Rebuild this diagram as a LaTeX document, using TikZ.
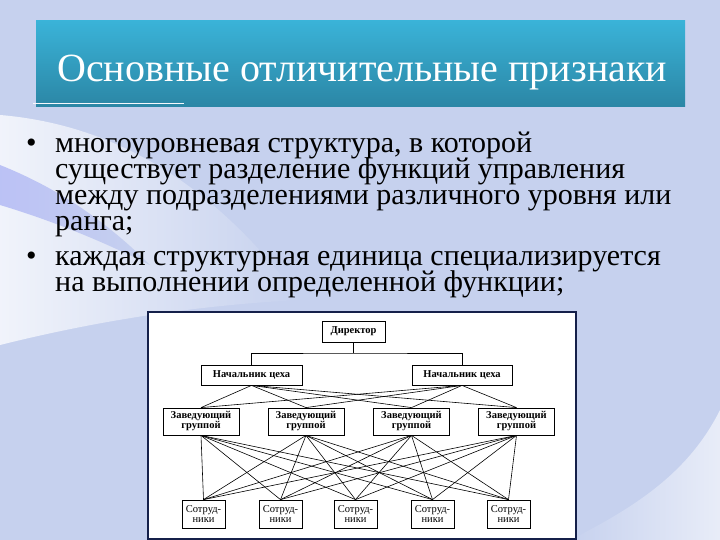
\documentclass[tikz,border=0pt]{standalone}
\usepackage{fontspec}
\setmainfont{Liberation Serif}
\usetikzlibrary{positioning}

\definecolor{bgblue}{HTML}{C6D1EE}
\definecolor{bannertop}{HTML}{3AB3D8}
\definecolor{bannerbot}{HTML}{2B86A5}
\definecolor{frameblue}{HTML}{15204A}

\tikzset{
    orgbox/.style={draw, line width=0.8pt, fill=white, inner sep=0pt, align=center,
        font=\fontsize{10.5}{10}\selectfont\bfseries},
    staffbox/.style={orgbox, font=\fontsize{10.5}{10}\selectfont},
    link/.style={line width=0.6pt},
    bodytext/.style={anchor=base west, inner sep=0pt, font=\fontsize{30}{26}\selectfont}
}

\begin{document}
\begin{tikzpicture}[x=1pt, y=-1pt]
    % Background
    \useasboundingbox (0,0) rectangle (720,540);
    \fill[bgblue] (0,0) rectangle (720,540);
    \shade[left color=white!75!bgblue, right color=bgblue]
        (0,115) .. controls (120,125) and (220,190) .. (300,300)
        .. controls (200,305) and (100,320) .. (0,345) -- cycle;
    \shade[left color=bgblue!80!blue!70!white, right color=bgblue]
        (0,165) .. controls (50,185) and (100,215) .. (150,265)
        .. controls (100,240) and (50,220) .. (0,205) -- cycle;
    \shade[left color=bgblue, right color=white!60!bgblue]
        (570,540) .. controls (640,505) and (690,470) .. (720,410) -- (720,540) -- cycle;

    % Title banner
    \shade[top color=bannertop, bottom color=bannerbot] (36,21) rectangle (685,107);
    \draw[white!85!bgblue, line width=1pt] (33,104) -- (184,104);
    \node[anchor=base west, inner sep=0pt, text=white, font=\fontsize{40}{44}\selectfont]
        (title) at (57,82) {Основные отличительные признаки};

    % Bullet list
    \node[bodytext] (b1) at (26,153) {•};
    \node[bodytext] (b2) at (26,265) {•};
    \node[bodytext] (l1) at (55,153) {многоуровневая структура, в которой};
    \node[bodytext] (l2) at (55,179) {существует разделение функций управления};
    \node[bodytext] (l3) at (55,205) {между подразделениями различного уровня или};
    \node[bodytext] (l4) at (55,230) {ранга;};
    \node[bodytext] (l5) at (55,265) {каждая структурная единица специализируется};
    \node[bodytext] (l6) at (55,291) {на выполнении определенной функции;};

    % Chart panel
    \draw[frameblue, line width=2pt, fill=white] (148,312) rectangle (576,539);

    % Levels
    \node[orgbox, minimum width=63pt, minimum height=21pt] (dir) at (353.5,331.5) {Директор};
    \node[orgbox, minimum width=101pt, minimum height=20pt] (nach1) at (251.5,375) {Начальник цеха};
    \node[orgbox, minimum width=100pt, minimum height=20pt] (nach2) at (462,375) {Начальник цеха};
    \foreach \i/\x in {1/201,2/306,3/411.5,4/516.5}
        \node[orgbox, minimum width=76pt, minimum height=27pt] (zav\i) at (\x,421.5) {Заведующий\\группой};
    \foreach \i/\x in {1/203.5,2/280.5,3/355.5,4/432.5,5/508.5}
        \node[staffbox, minimum width=43pt, minimum height=28pt] (sotr\i) at (\x,514) {Сотруд-\\ники};

    % Connections
    \coordinate (bus) at (353.5,353);
    \draw[link] (dir) -- (bus);
    \draw[link] (nach1.north) |- (bus) -| (nach2.north);
    \foreach \n in {1,2}
        \foreach \z in {1,...,4}
            \draw[link] (nach\n.south) -- (zav\z.north);
    \foreach \z in {1,...,4}
        \foreach \s in {1,...,5}
            \draw[link] (zav\z.south) -- (sotr\s.north);
\end{tikzpicture}
\end{document}
